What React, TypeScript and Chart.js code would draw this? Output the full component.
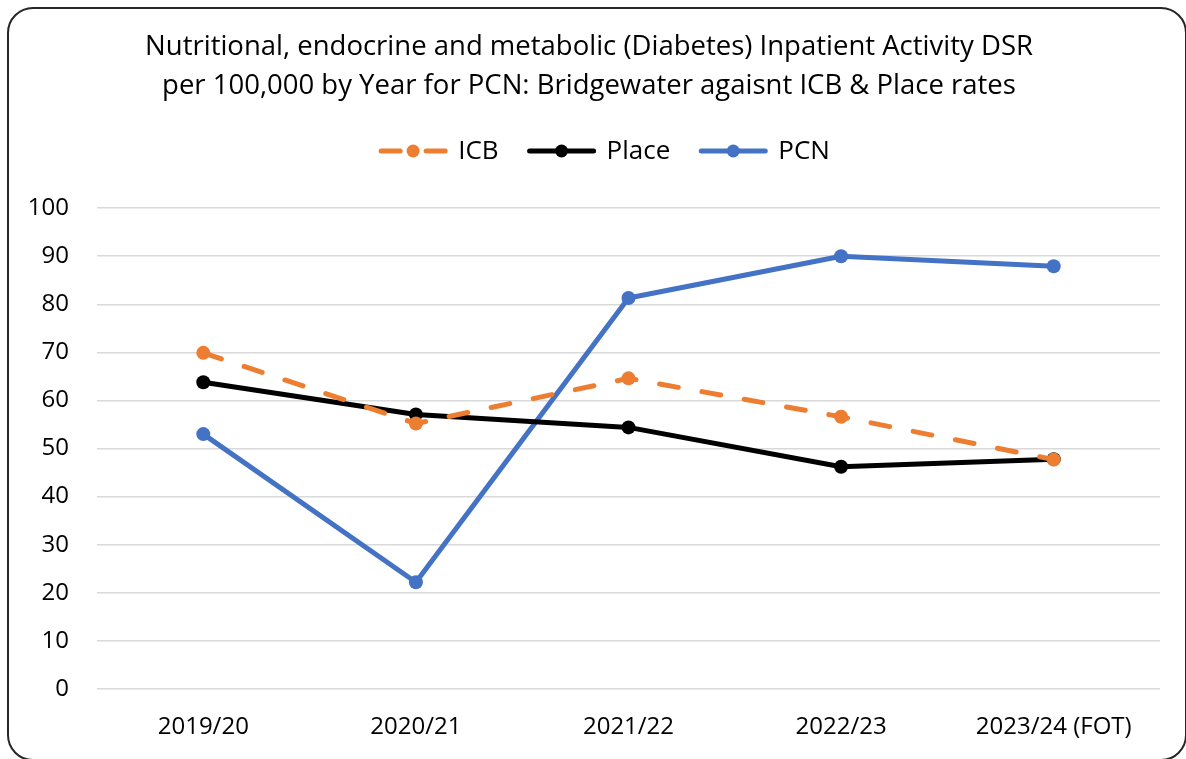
import React, { useEffect, useRef } from "react";
import { Chart, registerables } from "chart.js";

Chart.register(...registerables);

const categories = ["2019/20", "2020/21", "2021/22", "2022/23", "2023/24 (FOT)"];
const icbValues = [69.9, 55.2, 64.6, 56.6, 47.7];
const placeValues = [63.8, 57.1, 54.4, 46.2, 47.8];
const pcnValues = [53.0, 22.2, 81.3, 90.0, 87.9];
const titleLines = [
  "Nutritional, endocrine and metabolic (Diabetes) Inpatient Activity DSR",
  "per 100,000 by Year for PCN: Bridgewater agaisnt ICB & Place rates",
];
const yMin = 0;
const yMax = 100;
const yStep = 10;

const FONT = "'Open Sans', sans-serif";
const ORANGE = "#ED7D31";
const BLACK = "#000000";
const BLUE = "#4472C4";

const legendPlugin = {
  id: "customLegend",
  afterDraw(chart: any) {
    const ctx = chart.ctx;
    const items = chart.data.datasets.map((d: any) => ({
      label: d.label,
      color: d.borderColor,
      dashed: !!(d.borderDash && d.borderDash.length),
    }));
    const lineLen = 70;
    const textGap = 10;
    const itemGap = 28;
    ctx.save();
    ctx.font = `26px ${FONT}`;
    const widths = items.map((it: any) => lineLen + textGap + ctx.measureText(it.label).width);
    const total = widths.reduce((a: number, b: number) => a + b, 0) + itemGap * (items.length - 1);
    let x = 595 - total / 2;
    const y = 142;
    items.forEach((it: any, i: number) => {
      ctx.strokeStyle = it.color;
      ctx.fillStyle = it.color;
      ctx.lineWidth = 5;
      ctx.lineCap = "round";
      ctx.beginPath();
      if (it.dashed) {
        ctx.moveTo(x + 3, y);
        ctx.lineTo(x + 22, y);
        ctx.moveTo(x + 48, y);
        ctx.lineTo(x + lineLen - 3, y);
      } else {
        ctx.moveTo(x + 3, y);
        ctx.lineTo(x + lineLen - 3, y);
      }
      ctx.stroke();
      ctx.beginPath();
      ctx.arc(x + lineLen / 2, y, 6.5, 0, Math.PI * 2);
      ctx.fill();
      ctx.fillStyle = "#000";
      ctx.textBaseline = "middle";
      ctx.textAlign = "left";
      ctx.fillText(it.label, x + lineLen + textGap, y + 1);
      x += widths[i] + itemGap;
    });
    ctx.restore();
  },
};

export default function App() {
  const ref = useRef<HTMLCanvasElement | null>(null);
  useEffect(() => {
    document.body.style.overflow = "hidden";
    document.documentElement.style.overflow = "hidden";
    if (!ref.current) return;
    const mk = (label: string, data: number[], color: string, dash?: number[]) => ({
      label,
      data,
      borderColor: color,
      backgroundColor: color,
      borderWidth: 5,
      borderDash: dash,
      borderCapStyle: "round" as const,
      borderJoinStyle: "round" as const,
      pointRadius: 7,
      pointHoverRadius: 7,
      pointBorderWidth: 0,
      pointBackgroundColor: color,
      tension: 0,
      fill: false,
    });
    const chart = new Chart(ref.current, {
      type: "line",
      data: {
        labels: categories,
        datasets: [
          mk("ICB", icbValues, ORANGE, [19, 24]),
          mk("Place", placeValues, BLACK),
          mk("PCN", pcnValues, BLUE),
        ],
      },
      options: {
        responsive: false,
        animation: false,
        layout: { padding: { left: 9, right: 25, top: 0, bottom: 0 } },
        plugins: {
          legend: { display: false },
          tooltip: { enabled: false },
          title: {
            display: true,
            text: titleLines,
            color: "#000",
            font: { family: FONT, size: 27.5, weight: "normal" as any, lineHeight: 1.42 },
            padding: { top: 19, bottom: 102 },
          },
        },
        scales: {
          x: {
            offset: true,
            grid: { display: false, drawTicks: false },
            border: { display: false },
            afterFit: (s: any) => {
              s.height = 70;
              s.paddingLeft = 0;
              s.paddingRight = 0;
            },
            ticks: {
              color: "#000",
              font: { family: FONT, size: 24 },
              padding: 24,
              maxRotation: 0,
            },
          },
          y: {
            min: yMin,
            max: yMax,
            grid: { color: "#d9d9d9", lineWidth: 1.5, drawTicks: false },
            border: { display: false },
            afterFit: (s: any) => {
              s.width = 79;
            },
            ticks: {
              stepSize: yStep,
              color: "#000",
              font: { family: FONT, size: 24 },
              padding: 28,
            },
          },
        },
      },
      plugins: [legendPlugin],
    });
    return () => chart.destroy();
  }, []);
  return (
    <div
      style={{
        position: "absolute",
        left: 7,
        top: 7,
        width: 1180,
        height: 754,
        border: "2px solid #262626",
        borderRadius: 26,
        background: "#fff",
        boxSizing: "border-box",
        overflow: "hidden",
      }}
    >
      <canvas ref={ref} width={1176} height={750} style={{ display: "block" }} />
    </div>
  );
}
